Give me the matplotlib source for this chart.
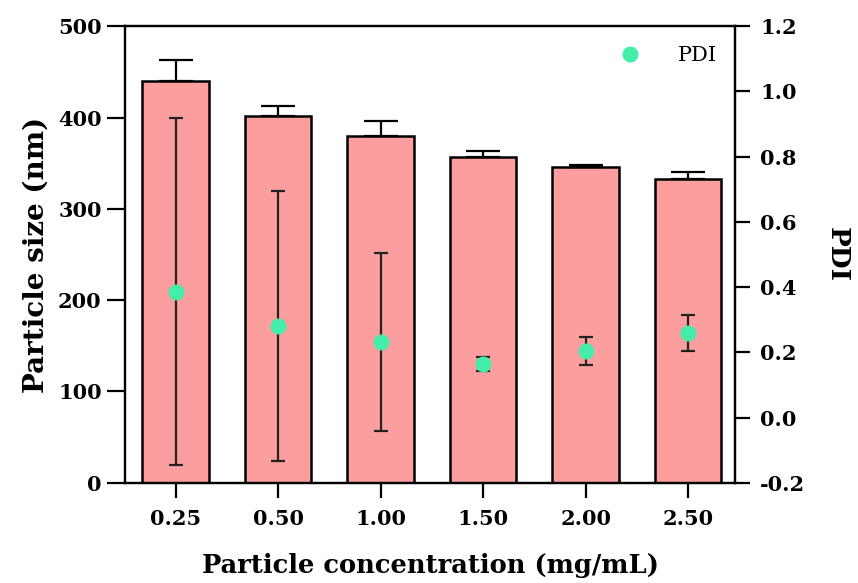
import numpy as np
import matplotlib
matplotlib.use("Agg")
import matplotlib.pyplot as plt

# data
conc_labels = ["0.25", "0.50", "1.00", "1.50", "2.00", "2.50"]
size_nm = [440, 402, 380, 357, 346, 333]
size_err = [23, 11, 16, 6, 2, 7]
pdi = [0.386, 0.281, 0.232, 0.164, 0.204, 0.259]
pdi_err = [0.532, 0.413, 0.272, 0.022, 0.043, 0.054]

bar_color = "#FC9E9E"
pdi_color = "#44EDAA"

plt.rcParams["font.family"] = ["DejaVu Serif"]
plt.rcParams["axes.linewidth"] = 1.6

fig, ax = plt.subplots(figsize=(8.58, 5.83), dpi=100)
fig.subplots_adjust(left=0.146, right=0.857, top=0.955, bottom=0.172)

x = np.arange(len(conc_labels))
ax.bar(x, size_nm, width=0.65, color=bar_color, edgecolor="black", linewidth=1.8,
       yerr=[np.zeros(len(size_err)), size_err],
       error_kw=dict(ecolor="black", elinewidth=1.6, capsize=12, capthick=1.6),
       zorder=2)
ax.set_ylim(0, 500)
ax.set_yticks([0, 100, 200, 300, 400, 500])
ax.set_xlim(-0.49, 5.46)
ax.set_xticks(x)
ax.set_xticklabels(conc_labels)
ax.tick_params(axis="y", labelsize=15, width=1.6, length=13, pad=4)
ax.tick_params(axis="x", labelsize=15, width=1.6, length=11, pad=8)
for lab in ax.get_xticklabels() + ax.get_yticklabels():
    lab.set_fontweight("bold")
ax.set_ylabel("Particle size (nm)", fontsize=20, fontweight="bold", labelpad=6)
ax.set_xlabel("Particle concentration (mg/mL)", fontsize=18.5, fontweight="bold",
              labelpad=17)

ax2 = ax.twinx()
ax2.errorbar(x, pdi, yerr=pdi_err, fmt="none", ecolor="#222222", elinewidth=1.6,
             capsize=5, capthick=1.6, zorder=3)
ax2.plot(x, pdi, "o", color=pdi_color, markersize=10.5, label="PDI", zorder=4)
ax2.set_ylim(-0.2, 1.2)
ax2.set_yticks([-0.2, 0.0, 0.2, 0.4, 0.6, 0.8, 1.0, 1.2])
ax2.set_yticklabels(["-0.2", "0.0", "0.2", "0.4", "0.6", "0.8", "1.0", "1.2"])
ax2.tick_params(axis="y", labelsize=15, width=1.6, length=11, pad=7)
for lab in ax2.get_yticklabels():
    lab.set_fontweight("bold")
ax2.set_ylabel("PDI", fontsize=19, fontweight="bold", rotation=270, labelpad=32)
ax2.legend(loc="upper right", frameon=False, fontsize=15, handletextpad=1.3,
           bbox_to_anchor=(1.0, 0.997))

fig.savefig("out.png", dpi=100)
